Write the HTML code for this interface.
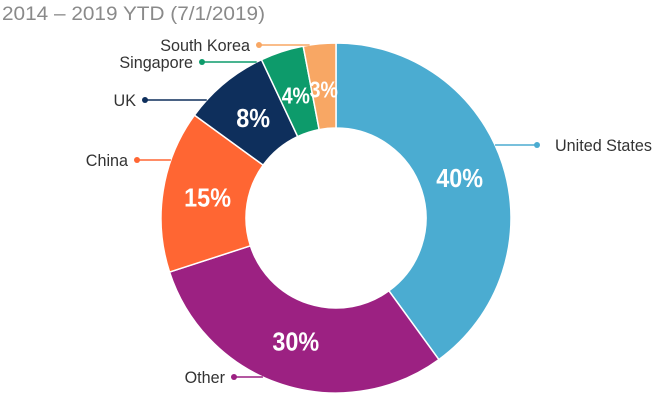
<!DOCTYPE html>
<html><head><meta charset="utf-8"><style>
html,body{margin:0;padding:0;background:#fff;width:661px;height:402px;overflow:hidden}
text{font-family:"Liberation Sans Narrow","Liberation Sans",sans-serif}
</style></head><body>
<svg id="chart" width="661" height="402" viewBox="0 0 661 402">
<text id="title" x="2" y="20" font-size="19" fill="#8a8a8a">2014 – 2019 YTD (7/1/2019)</text>
<g id="slices"></g><g id="labels"></g>
</svg>
<script>
const categories = ["United States","Other","China","UK","Singapore","South Korea"];
const values = [40,30,15,8,4,3];
const colors = ["#4BACD1","#9C2182","#FF6633","#0E2F5C","#0D9B6B","#F8A764"];
// leader layout (not data)
const leaderY = [145,377,160,100,62,45];
const leaderTextX = [555,225,128,136,193,250];
const cx=336, cy=218, R=175, r=90, rl=130;
const ns="http://www.w3.org/2000/svg";
const gS=document.getElementById('slices'), gL=document.getElementById('labels');
function squeeze(el,f){const w=el.getComputedTextLength();el.setAttribute('textLength',w*f);el.setAttribute('lengthAdjust','spacingAndGlyphs');}
squeeze(document.getElementById('title'),263/ (document.getElementById('title').getComputedTextLength()));
const total=values.reduce((a,b)=>a+b,0);
function pt(a,rad){return [cx+rad*Math.sin(a), cy-rad*Math.cos(a)];}
let acc=0;
values.forEach((v,i)=>{
  const a0=acc/total*2*Math.PI; acc+=v; const a1=acc/total*2*Math.PI;
  const large=(a1-a0)>Math.PI?1:0;
  const p0=pt(a0,R),p1=pt(a1,R),q1=pt(a1,r),q0=pt(a0,r);
  const path=document.createElementNS(ns,'path');
  path.setAttribute('d',`M${p0[0]},${p0[1]} A${R},${R} 0 ${large} 1 ${p1[0]},${p1[1]} L${q1[0]},${q1[1]} A${r},${r} 0 ${large} 0 ${q0[0]},${q0[1]} Z`);
  path.setAttribute('fill',colors[i]);
  path.setAttribute('stroke','#fff');path.setAttribute('stroke-width','1.5');
  
  
  gS.appendChild(path);
  const m=(a0+a1)/2, lp=pt(m,rl);
  const t=document.createElementNS(ns,'text');
  t.setAttribute('x',lp[0]);t.setAttribute('y',lp[1]+9);
  t.setAttribute('text-anchor','middle');t.setAttribute('font-size',v<5?'23':'26');
  t.setAttribute('font-weight','bold');t.setAttribute('fill','#fff');
  t.textContent=v+'%';
  
  
  gL.appendChild(t);
  squeeze(t,v<5?0.85:0.9);
  const y=leaderY[i], right=Math.sin(m)>0;
  const dy=y-cy, dx=Math.sqrt(Math.max(R*R-dy*dy,0));
  const ex=right?cx+dx:cx-dx;
  const tx=leaderTextX[i];
  const dotX=right?tx-18:tx+9;
  const line=document.createElementNS(ns,'line');
  line.setAttribute('x1',ex);line.setAttribute('y1',y);line.setAttribute('x2',dotX);line.setAttribute('y2',y);
  line.setAttribute('stroke',colors[i]);line.setAttribute('stroke-width','1.5');
  
  
  gL.appendChild(line);
  const dot=document.createElementNS(ns,'circle');
  dot.setAttribute('cx',dotX);dot.setAttribute('cy',y);dot.setAttribute('r','3');dot.setAttribute('fill',colors[i]);
  
  
  gL.appendChild(dot);
  const ct=document.createElementNS(ns,'text');
  ct.setAttribute('x',tx);ct.setAttribute('y',y+6);
  ct.setAttribute('text-anchor',right?'start':'end');
  ct.setAttribute('font-size','17');ct.setAttribute('fill','#333');
  ct.textContent=categories[i];
  
  
  gL.appendChild(ct);
  squeeze(ct,0.95);
});
</script>
</body></html>
